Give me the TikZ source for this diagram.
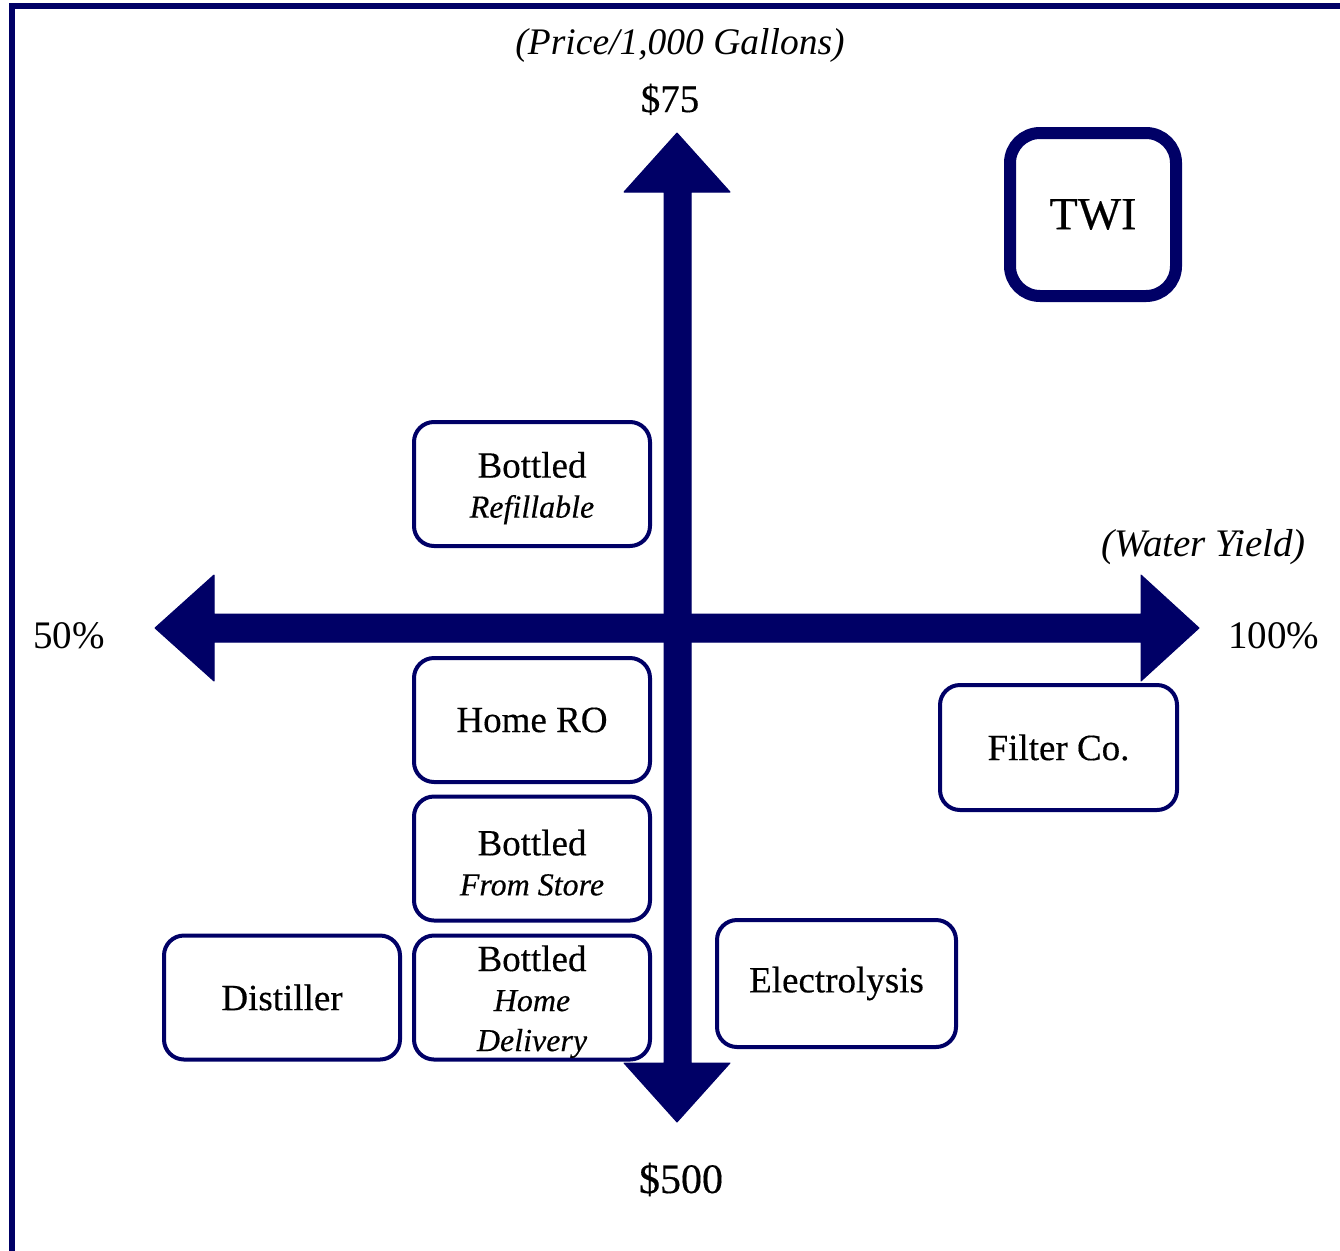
\documentclass[tikz,border=0pt]{standalone}
\usepackage{fontspec}
\setmainfont{Liberation Serif}
\newfontfamily\boxfont{Liberation Serif}[FakeBold=0.35]
\definecolor{navy}{RGB}{0,0,102}
\newcommand\subl[1]{{\fontsize{32}{38}\selectfont\itshape #1}}
\newcommand\topstrut{\rule{0pt}{34pt}}
\tikzset{
  box/.style={draw=navy, line width=4pt, rounded corners=20pt, fill=white,
    minimum width=236pt, minimum height=124pt, inner sep=0pt, align=center,
    font=\boxfont\fontsize{37}{40}\selectfont},
  axisarrow/.style={fill=navy, draw=navy, line width=1pt, line join=round},
  lbl/.style={inner sep=0pt, anchor=base, font=\fontsize{39}{42}\selectfont},
  ilbl/.style={inner sep=0pt, anchor=base, font=\fontsize{37.5}{40}\selectfont\itshape}
}
\begin{document}
\begin{tikzpicture}[x=1pt,y=-1pt]
\useasboundingbox (0,0) rectangle (1340,1250);
% frame
\draw[navy, line width=5.5pt] (12,1260) -- (12,6) -- (1350,6);
% vertical axis
\filldraw[axisarrow] (664,192) -- (624,192) -- (677,133) -- (730,192) -- (691,192)
  -- (691,1063) -- (730,1063) -- (677,1122) -- (624,1063) -- (664,1063) -- cycle;
% horizontal axis
\filldraw[axisarrow] (214,614) -- (214,575) -- (155,628) -- (214,681) -- (214,642)
  -- (1141,642) -- (1141,681) -- (1199,628) -- (1141,575) -- (1141,614) -- cycle;
% labels
\node[ilbl] (price) at (680,54) {(Price/1,000 Gallons)};
\node[lbl, font=\boxfont\fontsize{39}{42}\selectfont] (p75) at (670,112) {\$75};
\node[lbl, font=\boxfont\fontsize{42}{44}\selectfont] (p500) at (681,1193) {\$500};
\node[lbl, anchor=base west] (p50) at (33,648) {50\%};
\node[lbl, anchor=base west] (p100) at (1228,648) {100\%};
\node[ilbl, anchor=base west, font=\fontsize{39}{42}\selectfont\itshape] (yield) at (1101,556) {(Water Yield)};
% boxes
\node[box] (refill) at (532,484) {\topstrut Bottled\\\subl{Refillable}};
\node[box] (homero) at (532,720) {Home RO};
\node[box] (store) at (532,858.5) {\topstrut Bottled\\\subl{From Store}};
\node[box] (deliv) at (532,997.5) {\topstrut Bottled\\\subl{Home}\\\subl{Delivery}};
\node[box] (dist) at (282,997.5) {Distiller};
\node[box, minimum width=239pt, minimum height=127pt] (elec) at (836.5,983.5) {Electrolysis};
\node[box, minimum width=237pt, minimum height=125pt] (filter) at (1058.5,747.5) {Filter Co.};
\node[box, line width=12pt, rounded corners=30pt, minimum width=166pt, minimum height=163pt,
  font=\boxfont\fontsize{46}{48}\selectfont] (twi) at (1093,214.5) {TWI};
\end{tikzpicture}
\end{document}
